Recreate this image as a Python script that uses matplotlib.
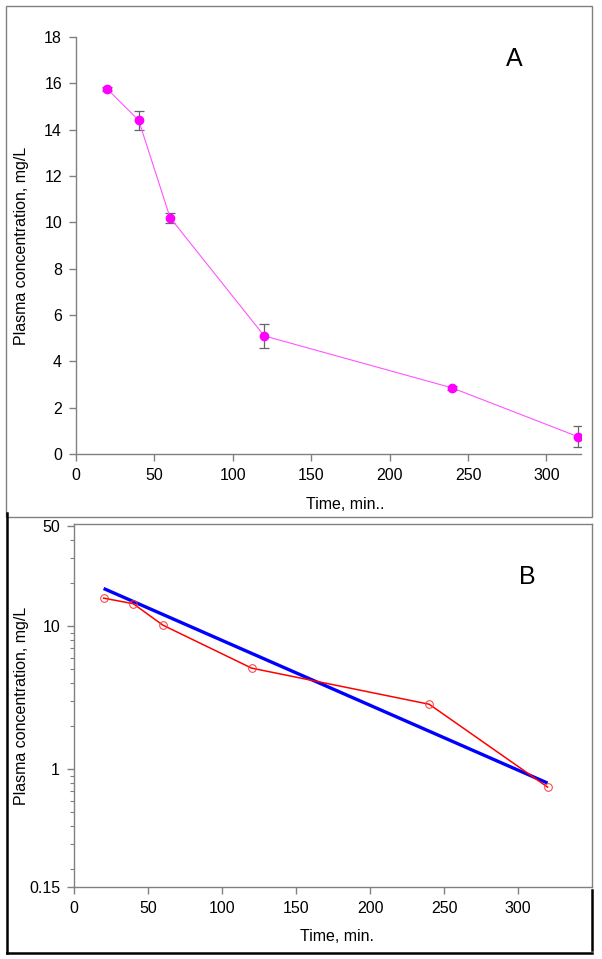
import matplotlib
matplotlib.use("Agg")
import matplotlib.pyplot as plt
from matplotlib.patches import Rectangle
from matplotlib.lines import Line2D
from matplotlib.ticker import FixedLocator, NullFormatter

plt.rcParams['font.family'] = ['Liberation Sans', 'DejaVu Sans']

# Дані: час відбору проб і концентрація в плазмі
time_min = [20, 40, 60, 120, 240, 320]
conc_mean = [15.75, 14.4, 10.2, 5.1, 2.85, 0.75]
conc_err = [0.1, 0.4, 0.22, 0.52, 0.1, 0.45]

# Лінія апроксимації на панелі B (кінцеві точки)
fit_time = [20, 320]
fit_conc = [18.4, 0.80]

a_xticks = [0, 50, 100, 150, 200, 250, 300]
a_yticks = [0, 2, 4, 6, 8, 10, 12, 14, 16, 18]
b_xticks = [0, 50, 100, 150, 200, 250, 300]
b_yticks = [0.15, 1, 10, 50]
b_yticklabels = ['0.15', '1', '10', '50']

W, H = 602, 959
fig = plt.figure(figsize=(W / 100, H / 100), dpi=100)

def fx(px):
    return px / W

def fy(py):
    return 1 - py / H

grey = '#808080'
fs = 11.5

# ---- Панель A ----
axA = fig.add_axes([fx(76), fy(454), fx(581) - fx(76), fy(37) - fy(454)])
axA.errorbar(time_min, conc_mean, yerr=conc_err, fmt='none', ecolor='#666666',
             elinewidth=0.9, capsize=3.5, capthick=0.9, zorder=2)
axA.plot(time_min, conc_mean, color='#ff55ff', lw=0.8, zorder=3)
axA.plot(time_min, conc_mean, 'o', color='#ff00ff', ms=6, zorder=4)
axA.set_xlim(0, 322)
axA.set_ylim(0, 18)
axA.set_xticks(a_xticks)
axA.set_yticks(a_yticks)
for s in ['top', 'right']:
    axA.spines[s].set_visible(False)
for s in ['left', 'bottom']:
    axA.spines[s].set_color(grey)
    axA.spines[s].set_linewidth(1)
axA.tick_params(colors=grey, labelcolor='black', labelsize=fs, length=5, width=1, pad=5)
axA.set_xlabel('Time, min..', fontsize=fs)
axA.set_ylabel('Plasma concentration, mg/L', fontsize=fs)
axA.xaxis.set_label_coords(0.533, -0.103)
axA.yaxis.set_label_coords(-0.093, 0.5)
fig.text(fx(514), fy(59), 'A', fontsize=18, ha='center', va='center')

# ---- Панель B ----
axB = fig.add_axes([fx(74), fy(887), fx(592) - fx(74), fy(524) - fy(887)])
axB.set_yscale('log')
axB.plot(fit_time, fit_conc, color='#0000ff', lw=2.4, solid_capstyle='butt', zorder=3)
axB.plot(time_min, conc_mean, color='#ff0000', lw=1.1, marker='o', ms=5.5,
         mfc='none', mec='#ff3333', mew=0.7, zorder=4)
axB.set_xlim(0, 350)
axB.set_ylim(0.15, 52)
axB.set_xticks(b_xticks)
axB.yaxis.set_major_locator(FixedLocator(b_yticks))
axB.set_yticklabels(b_yticklabels)
minor = [0.2, 0.3, 0.4, 0.5, 0.6, 0.7, 0.8, 0.9,
         2, 3, 4, 5, 6, 7, 8, 9, 20, 30, 40]
axB.yaxis.set_minor_locator(FixedLocator(minor))
axB.yaxis.set_minor_formatter(NullFormatter())
for s in axB.spines.values():
    s.set_color(grey)
    s.set_linewidth(1)
axB.tick_params(which='major', colors=grey, labelcolor='black', labelsize=fs,
                length=5, width=1, pad=5)
axB.tick_params(which='minor', colors=grey, length=3, width=0.8)
axB.set_xlabel('Time, min.', fontsize=fs)
axB.set_ylabel('Plasma concentration, mg/L', fontsize=fs)
axB.xaxis.set_label_coords(0.508, -0.115)
axB.yaxis.set_label_coords(-0.087, 0.5)
fig.text(fx(527), fy(577), 'B', fontsize=18, ha='center', va='center')

# ---- Рамки навколо панелей ----
fig.patches.append(Rectangle((fx(6), fy(517)), fx(592) - fx(6), fy(6) - fy(517),
                             transform=fig.transFigure, fill=False,
                             edgecolor=grey, lw=1))
for xs, ys in [([7, 7], [513, 953]), ([7, 592], [953, 953]), ([592, 592], [890, 950])]:
    fig.lines.append(Line2D([fx(x) for x in xs], [fy(y) for y in ys],
                            transform=fig.transFigure, color='black', lw=1.8))

fig.savefig('out.png', dpi=100)
